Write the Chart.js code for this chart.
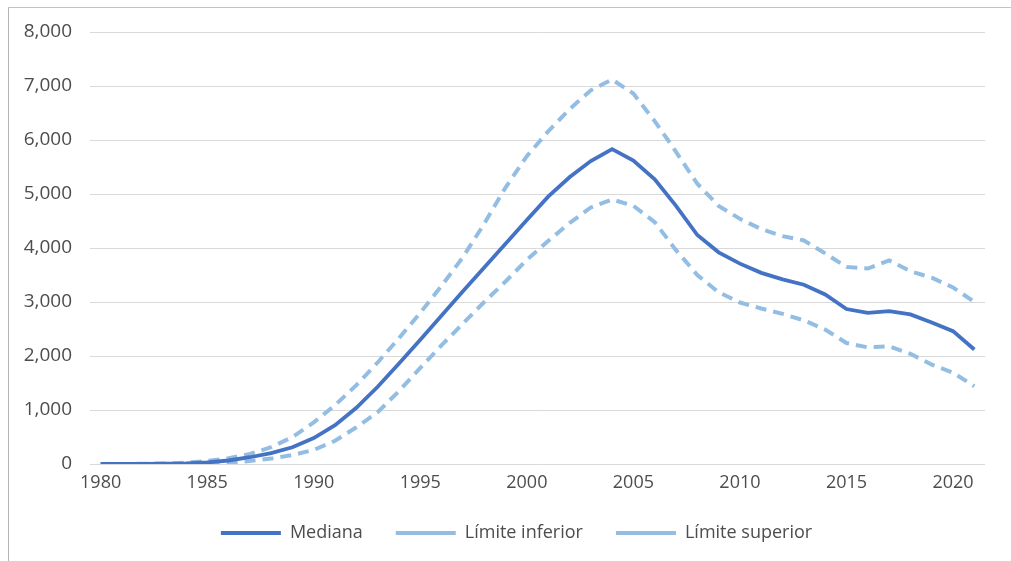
<!DOCTYPE html>
<html>
<head>
<meta charset="utf-8">
<script src="https://cdn.jsdelivr.net/npm/chart.js@4"></script>
<style>
  html, body { margin: 0; padding: 0; background: #fff; }
  #wrap { position: relative; width: 1011px; height: 561px; overflow: hidden; }
  #frame { position: absolute; left: 8px; top: 7px; right: 0; bottom: 0; border-top: 1px solid #c2c2c2; border-left: 1px solid #b5b5b5; pointer-events: none; }
  canvas { position: absolute; left: 0; top: 0; }
</style>
</head>
<body>
<div id="wrap">
  <canvas id="chartCanvas" width="1011" height="561"></canvas>
  <div id="frame"></div>
</div>
<script>
const years = [];
for (let y = 1980; y <= 2021; y++) years.push(String(y));

const mediana = [
  0, 0, 0, 5, 12, 30, 65, 125, 200, 310,
  480, 720, 1040, 1430, 1860, 2300, 2750, 3200, 3640, 4080,
  4520, 4950, 5310, 5610, 5830, 5620, 5270, 4780, 4240, 3920,
  3710, 3540, 3420, 3320, 3140, 2870, 2800, 2830, 2770, 2620,
  2460, 2120
];

const limiteInferior = [
  0, 0, 0, 2, 5, 10, 25, 55, 100, 165,
  260, 430, 680, 960, 1350, 1780, 2200, 2600, 3000, 3380,
  3780, 4130, 4460, 4750, 4900, 4780, 4480, 3960, 3500, 3180,
  2990, 2880, 2780, 2660, 2490, 2240, 2160, 2180, 2040, 1840,
  1690, 1440
];

const limiteSuperior = [
  0, 0, 5, 10, 25, 55, 105, 185, 310, 500,
  770, 1090, 1460, 1880, 2330, 2800, 3300, 3830, 4450, 5120,
  5700, 6160, 6570, 6920, 7120, 6860, 6350, 5780, 5190, 4780,
  4540, 4350, 4220, 4140, 3900, 3650, 3620, 3770, 3570, 3450,
  3270, 3000
];

const yTicks = [0, 1000, 2000, 3000, 4000, 5000, 6000, 7000, 8000];

const darkBlue = "#4472c4";
const lightBlue = "#94bde3";
const textColor = "#4d4d4d";
const fontFamily = "'Open Sans', sans-serif";

const dashedLine = (label, data) => ({
  label: label,
  data: data,
  borderColor: lightBlue,
  backgroundColor: lightBlue,
  borderWidth: 4,
  borderDash: [11, 7],
  pointRadius: 0,
  tension: 0,
  fill: false
});

// nudge the legend row to the right, under the plot
const legendShift = {
  id: "legendShift",
  afterLayout(chart) {
    chart.legend.left += 24;
    chart.legend.right += 24;
  }
};

new Chart(document.getElementById("chartCanvas"), {
  type: "line",
  data: {
    labels: years,
    datasets: [
      {
        label: "Mediana",
        data: mediana,
        borderColor: darkBlue,
        backgroundColor: darkBlue,
        borderWidth: 3.8,
        pointRadius: 0,
        tension: 0,
        fill: false
      },
      dashedLine("Límite inferior", limiteInferior),
      dashedLine("Límite superior", limiteSuperior)
    ]
  },
  plugins: [legendShift],
  options: {
    responsive: false,
    animation: false,
    layout: { padding: { left: 0, right: 26, top: 32, bottom: 9 } },
    plugins: {
      tooltip: { enabled: false },
      legend: {
        position: "bottom",
        labels: {
          usePointStyle: true,
          pointStyle: "line",
          pointStyleWidth: 60,
          padding: 33,
          color: textColor,
          font: { family: fontFamily, size: 18 }
        }
      }
    },
    scales: {
      x: {
        type: "category",
        offset: true,
        afterFit: (scale) => { scale.height = 27; },
        grid: { display: false, drawTicks: false },
        border: { display: false },
        ticks: {
          autoSkip: false,
          maxRotation: 0,
          padding: 8,
          color: textColor,
          font: { family: fontFamily, size: 18 },
          callback: function (value, index) {
            const label = this.getLabelForValue(value);
            return Number(label) % 5 === 0 ? label : "";
          }
        }
      },
      y: {
        min: 0,
        max: 8000,
        afterFit: (scale) => { scale.width = 90; },
        afterBuildTicks: (scale) => { scale.ticks = yTicks.map(v => ({ value: v })); },
        grid: { color: "#d9d9d9", lineWidth: 1, drawTicks: false },
        border: { display: false },
        ticks: {
          padding: 18,
          color: textColor,
          font: { family: fontFamily, size: 19 },
          callback: (v) => v.toLocaleString("en-US")
        }
      }
    }
  }
});
</script>
</body>
</html>
